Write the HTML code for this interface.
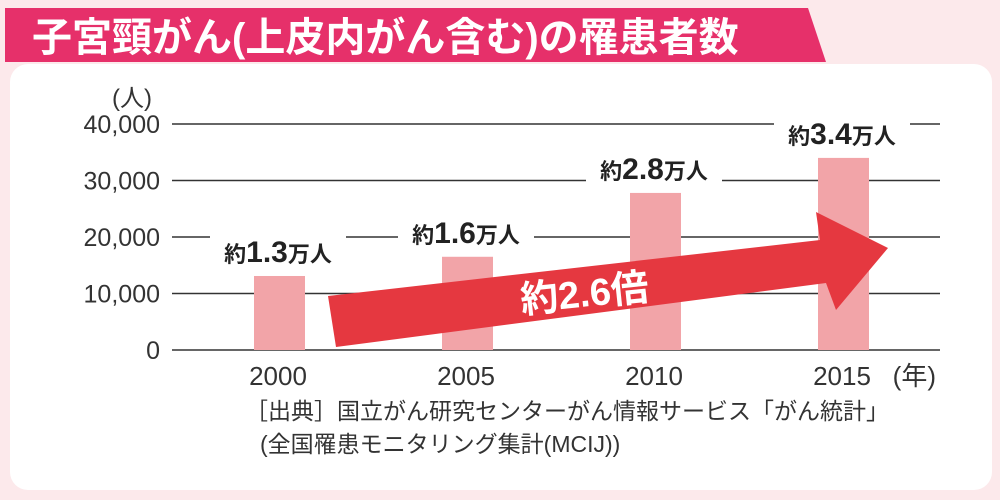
<!DOCTYPE html>
<html><head><meta charset="utf-8"><style>
body{margin:0;width:1000px;height:495px;background:#fce9eb;font-family:"Liberation Sans","Noto Sans CJK JP",sans-serif;overflow:hidden}
svg text{font-family:"Liberation Sans","Noto Sans CJK JP",sans-serif}
</style></head><body>
<svg width="1000" height="495">
<rect x="10" y="64" width="982" height="426" rx="18" fill="#fff"/>
<polygon points="5,8 808,8 826,62 5,62" fill="#e6306a"/>
<text x="32" y="51" font-size="40" font-weight="bold" fill="#fff">子宮頸がん(上皮内がん含む)の罹患者数</text>
<text x="112" y="106" font-size="24" fill="#333">(人)</text>
<g id="grid"></g><g id="bars"></g>
<polygon points="328,296 820,240 816,212 888,248 836,310 826,283 336,347" fill="#e53840"/>
<text x="520" y="306" font-size="38" font-weight="bold" fill="#fff" transform="rotate(-6 590 292)">約2.6倍</text>
<g id="labels"></g>
<text x="936" y="385" font-size="26" fill="#333" text-anchor="end">(年)</text>
<text x="245" y="419" font-size="23" fill="#333">［出典］国立がん研究センターがん情報サービス「がん統計」</text>
<text x="260" y="452" font-size="23" fill="#333">(全国罹患モニタリング集計(MCIJ))</text>
</svg>
<script>
const categories=["2000","2005","2010","2015"];
const values=[13100,16500,27800,34000];
const valueLabels=["1.3","1.6","2.8","3.4"];
const ticks=[0,10000,20000,30000,40000];
const tickLabels=["0","10,000","20,000","30,000","40,000"];
const NS="http://www.w3.org/2000/svg";
const y=v=>350-v*226/40000;
const x=i=>279+i*188;
function mk(t,a,p){const e=document.createElementNS(NS,t);for(const k in a)e.setAttribute(k,a[k]);p.appendChild(e);return e;}
const g=document.getElementById('grid'),b=document.getElementById('bars'),l=document.getElementById('labels');
ticks.forEach((t,i)=>{
 const ln=mk('line',{x1:172,x2:940,y1:y(t),y2:y(t),stroke:'#333','stroke-width':1.5},g);
 
 
 const tx=mk('text',{x:160,y:y(t)+9,'font-size':25,fill:'#333','text-anchor':'end'},g);tx.textContent=tickLabels[i];
 
 
});
categories.forEach((c,i)=>{
 const r=mk('rect',{x:x(i)-25,y:y(values[i]),width:51,height:350-y(values[i]),fill:'#f2a4a8'},b);
 
 
 const tx=mk('text',{x:x(i)-1,y:385,'font-size':26,fill:'#333','text-anchor':'middle'},b);tx.textContent=c;
 
 
 const ly=y(values[i])-14, cx=x(i)-1;
 const bg=mk('rect',{x:cx-68,y:ly-26,width:136,height:34,fill:'#fff'},l);
 
 
 const vt=mk('text',{x:cx,y:ly,'font-size':22,'font-weight':'bold',fill:'#222','text-anchor':'middle'},l);
 vt.innerHTML='約<tspan font-size="30">'+valueLabels[i]+'</tspan>万人';
 
 
});
</script>
</body></html>
